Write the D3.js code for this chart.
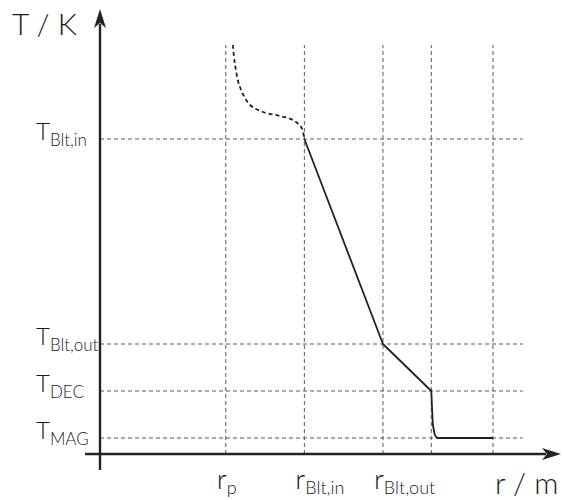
<!DOCTYPE html>
<html>
<head>
<meta charset="utf-8">
<script src="https://cdn.jsdelivr.net/npm/d3@7"></script>
<style>
html,body{margin:0;padding:0;background:#fff;}
svg{display:block;}
text{font-family:Lato,"Open Sans",sans-serif;font-weight:300;fill:#1a1a1a;}
</style>
</head>
<body>
<script>
// ---- data ----
const rNames = ["p", "Blt,in", "Blt,out", "", ""];
const rValues = [3.2, 5.2, 7.2, 8.43, 10];
const tNames = ["Blt,in", "Blt,out", "DEC", "MAG"];
const tValues = [31.5, 11.0, 6.3, 1.6];
// solid profile (r, T)
const solidR = [5.2, 7.2, 8.43, 8.45, 8.47, 8.52, 8.58, 10];
const solidT = [31.5, 11.0, 6.3, 4.5, 2.9, 1.9, 1.6, 1.6];
// dashed extrapolation (r, T)
const dashR = [3.38, 3.43, 3.56, 3.82, 4.15, 4.58, 4.91, 5.12, 5.2];
const dashT = [40.9, 39.1, 36.7, 34.9, 34.2, 33.8, 33.4, 32.7, 31.5];
const xLabel = "r / m";
const yLabel = "T / K";

// ---- scales ----
const W = 563, H = 500;
const x = d3.scaleLinear().domain([0, 10]).range([100, 493]);
const y = d3.scaleLinear().domain([0, 40.9]).range([454, 45]);
const gridEndR = 10.76;
const yTop = 40.9;

const svg = d3.select("body").append("svg").attr("width", W).attr("height", H);

// grid lines
const gridStyle = s => s.attr("stroke", "#5a5a5a").attr("stroke-width", 1).attr("stroke-dasharray", "4,3").attr("fill", "none");
svg.append("g").selectAll("line").data(tValues).join("line")
  .attr("x1", x(0)).attr("x2", x(gridEndR))
  .attr("y1", d => y(d)).attr("y2", d => y(d)).call(gridStyle);
svg.append("g").selectAll("line").data(rValues).join("line")
  .attr("x1", d => x(d)).attr("x2", d => x(d))
  .attr("y1", y(0)).attr("y2", y(yTop)).call(gridStyle);

// curves
const line = d3.line().x(d => x(d[0])).y(d => y(d[1]));
svg.append("path")
  .datum(dashR.map((r, i) => [r, dashT[i]]))
  .attr("d", d3.line().x(d => x(d[0])).y(d => y(d[1])).curve(d3.curveCatmullRom.alpha(0.5)))
  .attr("fill", "none").attr("stroke", "#222").attr("stroke-width", 1.8).attr("stroke-dasharray", "4,3");
svg.append("path")
  .datum(solidR.map((r, i) => [r, solidT[i]]))
  .attr("d", line)
  .attr("fill", "none").attr("stroke", "#222").attr("stroke-width", 1.8).attr("stroke-linejoin", "round");

// axes
const ax = "#222";
svg.append("line").attr("x1", x(0)).attr("x2", x(0)).attr("y1", 470).attr("y2", 24)
  .attr("stroke", ax).attr("stroke-width", 2.4);
svg.append("line").attr("x1", 85).attr("x2", 546).attr("y1", y(0)).attr("y2", y(0))
  .attr("stroke", ax).attr("stroke-width", 2.4);
// arrowheads
const x0 = x(0), y0 = y(0);
svg.append("path").attr("d", `M${x0},9 L${x0 + 6},28 L${x0},23 L${x0 - 6},28 Z`).attr("fill", ax);
svg.append("path").attr("d", `M561,${y0} L542,${y0 - 6} L547,${y0} L542,${y0 + 6} Z`).attr("fill", ax);

// axis titles
svg.append("text").attr("x", 12).attr("y", 35).attr("font-size", 30).text(yLabel);
svg.append("text").attr("x", 495).attr("y", 494).attr("font-size", 30).text(xLabel);

// y tick labels
const tl = svg.append("g").selectAll("text").data(tNames).join("text")
  .attr("x", 36).attr("y", (d, i) => y(tValues[i]) + 1).attr("font-size", 24);
tl.append("tspan").text("T");
tl.append("tspan").attr("font-size", 17).attr("dy", 6).text(d => d);

// x tick labels
const rl = svg.append("g").selectAll("text").data(rNames.filter(d => d !== "")).join("text")
  .attr("x", (d, i) => x(rValues[i]) - 9).attr("y", 489).attr("font-size", 28);
rl.append("tspan").text("r");
rl.append("tspan").attr("font-size", 18).attr("dy", 5).text(d => d);
</script>
</body>
</html>
